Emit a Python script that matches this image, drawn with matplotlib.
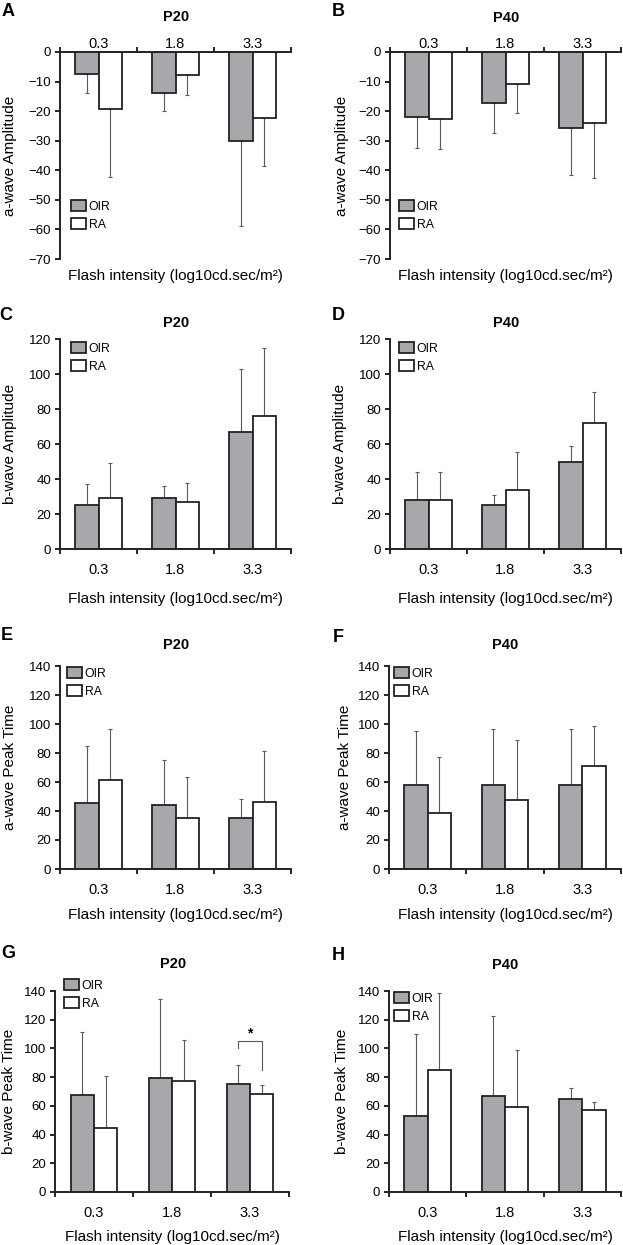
import numpy as np
import matplotlib
matplotlib.use("Agg")
from matplotlib import pyplot as plt

plt.rcParams['font.family'] = ['Liberation Sans', 'DejaVu Sans']

W, H = 623, 1245

categories = ['0.3', '1.8', '3.3']
xlabel_text = 'Flash intensity (log10cd.sec/m\u00b2)'

# a-wave amplitude
a_amp_p20_oir = [-7.5, -13.8, -30.0]
a_amp_p20_oir_sd = [6.5, 6.0, 29.0]
a_amp_p20_ra = [-19.3, -7.8, -22.4]
a_amp_p20_ra_sd = [23.0, 6.7, 16.0]
a_amp_p40_oir = [-21.9, -17.3, -25.8]
a_amp_p40_oir_sd = [10.7, 10.2, 15.9]
a_amp_p40_ra = [-22.6, -10.9, -24.0]
a_amp_p40_ra_sd = [10.3, 9.7, 18.7]

# b-wave amplitude
b_amp_p20_oir = [25, 29, 67]
b_amp_p20_oir_sd = [12, 7, 36]
b_amp_p20_ra = [29, 27, 76]
b_amp_p20_ra_sd = [20, 11, 39]
b_amp_p40_oir = [28, 25, 50]
b_amp_p40_oir_sd = [16, 6, 9]
b_amp_p40_ra = [28, 33.6, 72]
b_amp_p40_ra_sd = [16, 22, 18]

# a-wave peak time
a_pt_p20_oir = [45.2, 44.3, 35.3]
a_pt_p20_oir_sd = [39.5, 31.0, 13.0]
a_pt_p20_ra = [61.3, 35.3, 45.9]
a_pt_p20_ra_sd = [35.3, 28.3, 35.8]
a_pt_p40_oir = [57.8, 57.8, 57.8]
a_pt_p40_oir_sd = [37.2, 38.6, 38.6]
a_pt_p40_ra = [38.8, 47.7, 70.9]
a_pt_p40_ra_sd = [38.1, 41.1, 27.6]

# b-wave peak time
b_pt_p20_oir = [67.7, 79.3, 75.1]
b_pt_p20_oir_sd = [43.9, 55.1, 13.5]
b_pt_p20_ra = [44.7, 77.2, 68.4]
b_pt_p20_ra_sd = [36.2, 28.8, 5.8]
b_pt_p40_oir = [52.8, 67.0, 64.9]
b_pt_p40_oir_sd = [57.0, 55.8, 7.2]
b_pt_p40_ra = [85.1, 59.0, 57.0]
b_pt_p40_ra_sd = [53.5, 39.8, 5.8]

GRAY = '#a7a8ab'
ERR = '#5a5a5a'
BW = 0.3
FS = 11      # axis labels
XFS = 10.5   # x tick labels
YFS = 9.5    # y tick labels

fig = plt.figure(figsize=(W / 100, H / 100), dpi=100)


def px_axes(left, top, width, bottom):
    return fig.add_axes([left / W, 1 - bottom / H, width / W, (bottom - top) / H])


def panel(ax, oir, oir_sd, ra, ra_sd, ylim, yticks, ylabel,
          neg=False, leg_xy=(0.04, 0.98), xlab_y=-0.2, ylab_x=-0.2):
    x = np.arange(len(categories)) + 0.5
    for vals, sd, xs in [(oir, oir_sd, x - BW / 2), (ra, ra_sd, x + BW / 2)]:
        sd = np.array(sd)
        if neg:
            yerr = [sd, np.zeros_like(sd)]
        else:
            yerr = [np.zeros_like(sd), sd]
        ax.errorbar(xs, vals, yerr=yerr, fmt='none', ecolor=ERR, elinewidth=0.8,
                    capsize=1.5, capthick=0.8, zorder=1)
    ax.bar(x - BW / 2, oir, BW, color=GRAY, edgecolor='#222222', linewidth=1.3,
           label='OIR', zorder=2)
    ax.bar(x + BW / 2, ra, BW, color='white', edgecolor='#222222', linewidth=1.3,
           label='RA', zorder=2)
    ax.set_xlim(0, 3)
    ax.set_ylim(*ylim)
    ax.set_yticks(yticks)
    ax.set_xticks([0, 1, 2, 3])
    ax.set_xticklabels([])
    ax.set_xticks(x, minor=True)
    ax.set_xticklabels(categories, minor=True)
    ax.tick_params(axis='x', which='minor', length=0, labelsize=XFS)
    ax.tick_params(axis='x', which='major', length=3.5, width=1.2, direction='out')
    ax.tick_params(axis='y', length=3.5, width=1.2, labelsize=YFS, pad=3)
    for s in ['top', 'right', 'bottom', 'left']:
        ax.spines[s].set_linewidth(1.4)
        ax.spines[s].set_color('#222222')
    ax.spines['right'].set_visible(False)
    if neg:
        ax.spines['bottom'].set_visible(False)
        ax.xaxis.set_ticks_position('top')
        ax.tick_params(axis='x', which='minor', pad=0.5)
        ax.xaxis.set_label_position('bottom')
    else:
        ax.spines['top'].set_visible(False)
        ax.tick_params(axis='x', which='minor', pad=10)
    ax.set_xlabel(xlabel_text, fontsize=FS)
    ax.xaxis.set_label_coords(0.5, xlab_y)
    ax.set_ylabel(ylabel, fontsize=FS)
    ax.yaxis.set_label_coords(ylab_x, 0.5)
    ax.legend(loc='upper left', bbox_to_anchor=leg_xy, frameon=False, fontsize=8.8,
              handlelength=1.2, handleheight=1.05, handletextpad=0.25,
              labelspacing=0.4, borderpad=0, borderaxespad=0)
    return ax


axA = px_axes(60, 52, 231, 259)
panel(axA, a_amp_p20_oir, a_amp_p20_oir_sd, a_amp_p20_ra, a_amp_p20_ra_sd,
      (-70, 0), range(-70, 1, 10), 'a-wave Amplitude', neg=True,
      leg_xy=(0.047, 0.285), xlab_y=-0.05, ylab_x=-0.188)
axB = px_axes(390, 52, 231, 259)
panel(axB, a_amp_p40_oir, a_amp_p40_oir_sd, a_amp_p40_ra, a_amp_p40_ra_sd,
      (-70, 0), range(-70, 1, 10), 'a-wave Amplitude', neg=True,
      leg_xy=(0.039, 0.285), xlab_y=-0.05, ylab_x=-0.179)

axC = px_axes(60, 339, 231, 549)
panel(axC, b_amp_p20_oir, b_amp_p20_oir_sd, b_amp_p20_ra, b_amp_p20_ra_sd,
      (0, 120), range(0, 121, 20), 'b-wave Amplitude',
      leg_xy=(0.047, 0.986), xlab_y=-0.205, ylab_x=-0.188)
axD = px_axes(390, 339, 231, 549)
panel(axD, b_amp_p40_oir, b_amp_p40_oir_sd, b_amp_p40_ra, b_amp_p40_ra_sd,
      (0, 120), range(0, 121, 20), 'b-wave Amplitude',
      leg_xy=(0.039, 0.986), xlab_y=-0.205, ylab_x=-0.184)

axE = px_axes(60, 666, 231, 869)
panel(axE, a_pt_p20_oir, a_pt_p20_oir_sd, a_pt_p20_ra, a_pt_p20_ra_sd,
      (0, 140), range(0, 141, 20), 'a-wave Peak Time',
      leg_xy=(0.03, 0.995), xlab_y=-0.19, ylab_x=-0.188)
axF = px_axes(389, 666, 232, 869)
panel(axF, a_pt_p40_oir, a_pt_p40_oir_sd, a_pt_p40_ra, a_pt_p40_ra_sd,
      (0, 140), range(0, 141, 20), 'a-wave Peak Time',
      leg_xy=(0.022, 0.995), xlab_y=-0.19, ylab_x=-0.160)

axG = px_axes(55, 991, 234, 1192)
panel(axG, b_pt_p20_oir, b_pt_p20_oir_sd, b_pt_p20_ra, b_pt_p20_ra_sd,
      (0, 140), range(0, 141, 20), 'b-wave Peak Time',
      leg_xy=(0.038, 1.06), xlab_y=-0.19, ylab_x=-0.167)
axH = px_axes(389, 991, 232, 1192)
panel(axH, b_pt_p40_oir, b_pt_p40_oir_sd, b_pt_p40_ra, b_pt_p40_ra_sd,
      (0, 140), range(0, 141, 20), 'b-wave Peak Time',
      leg_xy=(0.022, 0.995), xlab_y=-0.19, ylab_x=-0.173)

# panel titles (pixel positions from the reference)
titles = ['P20', 'P40', 'P20', 'P40', 'P20', 'P40', 'P20', 'P40']
title_pos = [(176, 17), (506, 18), (176, 323), (506, 323),
             (176, 645), (505, 645), (173, 964), (505, 965)]
for t, (px, py) in zip(titles, title_pos):
    fig.text(px / W, 1 - py / H, t, fontsize=10.5, fontweight='bold', ha='center', va='center')

# significance bracket in G
xo, xr = 2.5 - BW / 2, 2.5 + BW / 2
axG.plot([xo, xo, xr, xr], [100, 105, 105, 85.3], color=ERR, lw=0.8, zorder=3)
axG.text(2.5, 105.5, '*', ha='center', va='bottom', fontsize=10, fontweight='bold')

# panel letters
letters = ['A', 'B', 'C', 'D', 'E', 'F', 'G', 'H']
letter_pos = [(8, 12), (338, 11), (6, 315), (338, 316), (7, 635), (338, 637), (8, 953), (338, 956)]
for lab, (px, py) in zip(letters, letter_pos):
    fig.text(px / W, 1 - py / H, lab, fontsize=13, fontweight='bold', ha='center', va='center')

fig.savefig('out.png', dpi=100)
